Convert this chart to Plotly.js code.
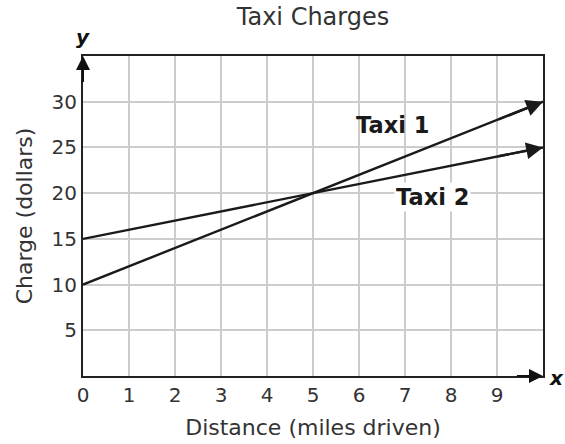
<!DOCTYPE html>
<html>
<head>
<meta charset="utf-8">
<script src="https://cdn.plot.ly/plotly-3.0.1.min.js"></script>
<style>html,body{margin:0;padding:0;background:#fff}#chart{width:565px;height:444px}</style>
</head>
<body>
<div id="chart"></div>
<script>
var distance = [0, 10];
var taxi1 = [10, 30];
var taxi2 = [15, 25];
var xTicks = [0, 1, 2, 3, 4, 5, 6, 7, 8, 9];
var yTicks = [5, 10, 15, 20, 25, 30];
var seriesNames = ['Taxi 1', 'Taxi 2'];

var lineStyle = {color: '#1a1a1a', width: 2.4};
var traces = [
  {x: distance, y: taxi1, mode: 'lines', line: lineStyle, name: seriesNames[0], hoverinfo: 'skip'},
  {x: distance, y: taxi2, mode: 'lines', line: lineStyle, name: seriesNames[1], hoverinfo: 'skip'}
];

function headAnn(xs, ys) {
  var n = xs.length - 1;
  var t = 0.9;
  return {
    x: xs[n], y: ys[n], xref: 'x', yref: 'y',
    ax: xs[0] + (xs[n] - xs[0]) * t, ay: ys[0] + (ys[n] - ys[0]) * t,
    axref: 'x', ayref: 'y', text: '', showarrow: true,
    arrowhead: 2, arrowsize: 1.4, arrowwidth: 2.4, arrowcolor: '#1a1a1a'
  };
}

var txt = '#333';
var ax = {
  showgrid: true, gridcolor: '#cccccc', gridwidth: 2,
  showline: true, linecolor: '#222', linewidth: 2, mirror: true,
  zeroline: false, ticks: '', ticklen: 0, fixedrange: true,
  tickfont: {size: 20, color: txt}
};
var layout = {
  width: 565, height: 444,
  margin: {l: 83, r: 22, t: 56, b: 68},
  paper_bgcolor: '#fff', plot_bgcolor: '#fff',
  showlegend: false,
  font: {family: 'DejaVu Sans, Verdana, sans-serif', color: txt, size: 20},
  title: {text: 'Taxi Charges', x: 0.5, xref: 'paper', xanchor: 'center', y: 0.962, yanchor: 'middle',
          font: {size: 24, color: txt}},
  xaxis: Object.assign({}, ax, {
    range: [0, 10], tickvals: xTicks, ticktext: xTicks.map(String),
    title: {text: 'Distance (miles driven)', font: {size: 22, color: txt}, standoff: 14}
  }),
  yaxis: Object.assign({}, ax, {
    range: [0, 35], tickvals: yTicks, ticktext: yTicks.map(String),
    title: {text: 'Charge (dollars)', font: {size: 22, color: txt}, standoff: 13}
  }),
  annotations: [
    headAnn(distance, taxi1),
    headAnn(distance, taxi2),
    {x: 0, y: 35, xref: 'x', yref: 'y', ax: 0, ay: 32, axref: 'x', ayref: 'y',
     text: '', showarrow: true, arrowhead: 2, arrowsize: 1.4, arrowwidth: 2, arrowcolor: '#111'},
    {x: 10, y: 0, xref: 'x', yref: 'y', ax: 9.4, ay: 0, axref: 'x', ayref: 'y',
     text: '', showarrow: true, arrowhead: 2, arrowsize: 1.4, arrowwidth: 2, arrowcolor: '#111'},
    {x: 0, y: 35, xref: 'x', yref: 'y', yanchor: 'bottom', yshift: 5, showarrow: false,
     text: '<b><i>y</i></b>', font: {size: 20, color: '#111', family: 'DejaVu Sans'}},
    {x: 10, y: 0, xref: 'x', yref: 'y', xanchor: 'left', xshift: 4, yshift: -2, showarrow: false,
     text: '<b><i>x</i></b>', font: {size: 20, color: '#111', family: 'DejaVu Sans'}},
    {x: 6.72, y: 27.5, xref: 'x', yref: 'y', showarrow: false,
     text: '<b>' + seriesNames[0] + '</b>', font: {size: 22.5, color: '#1a1a1a'}},
    {x: 7.6, y: 19.6, xref: 'x', yref: 'y', showarrow: false, bgcolor: '#fff',
     text: '<b>' + seriesNames[1] + '</b>', font: {size: 22.5, color: '#1a1a1a'}}
  ]
};

Plotly.newPlot('chart', traces, layout, {displayModeBar: false, staticPlot: true});
</script>
</body>
</html>
